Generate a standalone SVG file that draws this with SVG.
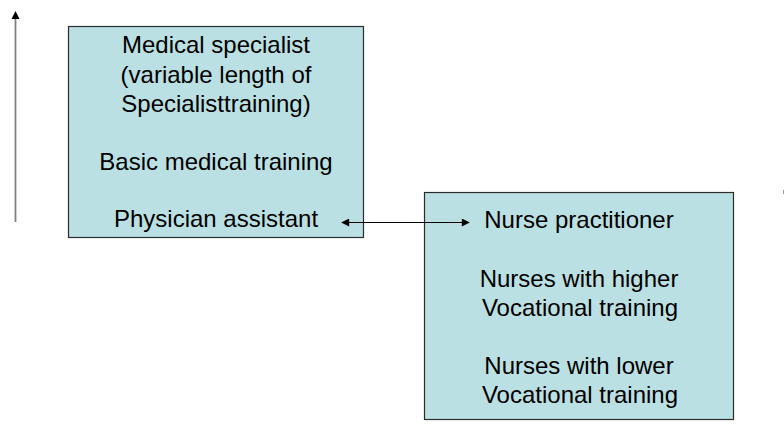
<svg xmlns="http://www.w3.org/2000/svg" width="784" height="430" viewBox="0 0 784 430">
<style>
.box{fill:#BBE0E3;stroke:#2b2b2b;stroke-width:1.2}
.t{font-family:"Liberation Sans",Arial,sans-serif;font-size:24px;fill:#000;text-anchor:middle}
</style>
<defs>
<marker id="ah" viewBox="0 0 10 10" refX="9" refY="5" markerWidth="10" markerHeight="8" markerUnits="userSpaceOnUse" orient="auto-start-reverse">
<path d="M0,0 L10,5 L0,10 z" fill="#000"/>
</marker>
</defs>
<rect width="784" height="430" fill="#fff"/>
<g id="doctors">
<rect class="box" x="68.5" y="26.5" width="295" height="211"/>
<text class="t" x="216" y="53">Medical specialist</text>
<text class="t" x="216" y="82.5">(variable length of</text>
<text class="t" x="216" y="112">Specialisttraining)</text>
<text class="t" x="216" y="170">Basic medical training</text>
<text class="t" x="216" y="227">Physician assistant</text>
</g>
<g id="nurses">
<rect class="box" x="424.5" y="192.5" width="309" height="227"/>
<text class="t" x="579" y="228">Nurse practitioner</text>
<text class="t" x="579" y="286.5">Nurses with higher</text>
<text class="t" x="580" y="315.5">Vocational training</text>
<text class="t" x="579" y="373.5">Nurses with lower</text>
<text class="t" x="580" y="402.5">Vocational training</text>
</g>
<g id="connectors">
<line x1="15.5" y1="222" x2="15.5" y2="18" stroke="#808080" stroke-width="1.8"/>
<path d="M15.5,11 L19.5,19 L11.5,19 z" fill="#000"/>
<line x1="342" y1="222.5" x2="469" y2="222.5" stroke="#000" stroke-width="1" marker-start="url(#ah)" marker-end="url(#ah)"/>
<line x1="783.5" y1="190" x2="783.5" y2="194" stroke="#a0a0a0" stroke-width="1"/>
</g>
</svg>
